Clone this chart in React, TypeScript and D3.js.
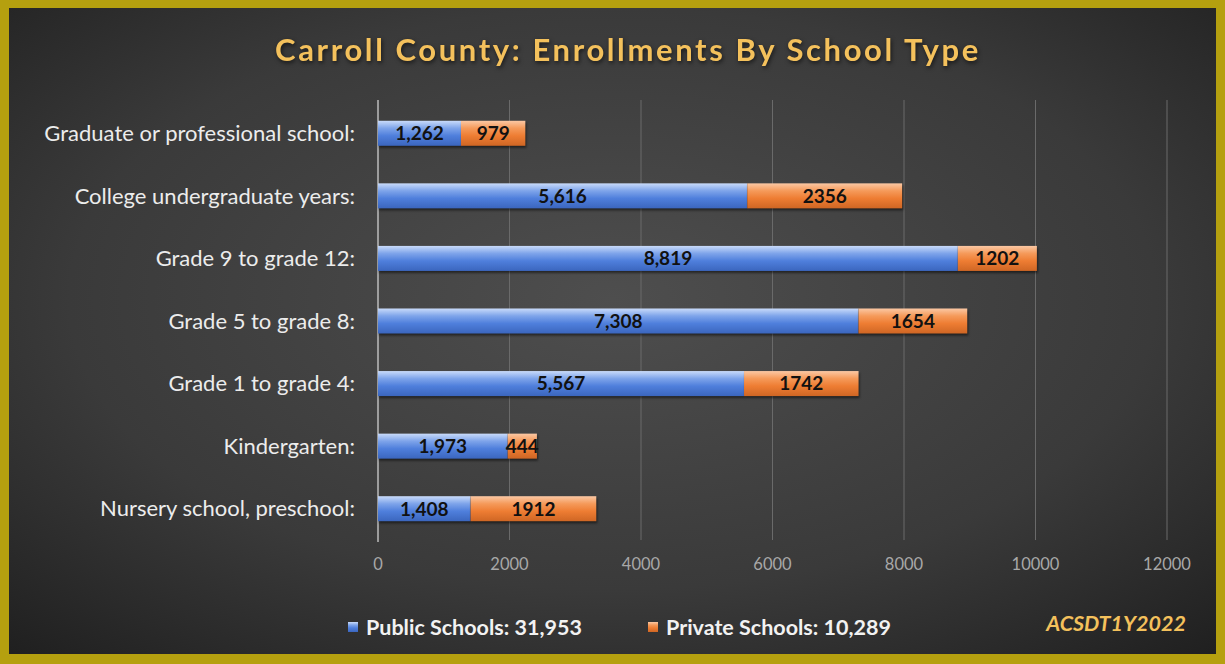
import * as d3 from 'd3';

const categories = [
  'Graduate or professional school:',
  'College undergraduate years:',
  'Grade 9 to grade 12:',
  'Grade 5 to grade 8:',
  'Grade 1 to grade 4:',
  'Kindergarten:',
  'Nursery school, preschool:',
];
const publicValues = [1262, 5616, 8819, 7308, 5567, 1973, 1408];
const privateValues = [979, 2356, 1202, 1654, 1742, 444, 1912];
const xTicks = [0, 2000, 4000, 6000, 8000, 10000, 12000];
const legendLabels = ['Public Schools: 31,953', 'Private Schools: 10,289'];

const W = 1225;
const H = 664;
const FONT = 'Lato, "Open Sans", sans-serif';

export default function App() {
  const x = d3.scaleLinear().domain([0, 12000]).range([378, 1167]);
  const y = d3.scaleBand().domain(categories).range([102, 540]).paddingInner(0.6).paddingOuter(0.3);
  const bh = y.bandwidth();
  const fmt = d3.format(',');

  return (
    <svg width={W} height={H} style={{ position: 'absolute', left: 0, top: 0 }}>
      <defs>
        <radialGradient id="bg" cx="0.5" cy="0.45" r="0.75">
          <stop offset="0" stopColor="#4e4e4e" />
          <stop offset="0.6" stopColor="#3a3a3a" />
          <stop offset="1" stopColor="#1f1f1f" />
        </radialGradient>
        <linearGradient id="blue" x1="0" y1="0" x2="0" y2="1">
          <stop offset="0" stopColor="#c9dbfa" />
          <stop offset="0.3" stopColor="#7ea4ea" />
          <stop offset="0.6" stopColor="#4f7fdc" />
          <stop offset="1" stopColor="#3b66be" />
        </linearGradient>
        <linearGradient id="orange" x1="0" y1="0" x2="0" y2="1">
          <stop offset="0" stopColor="#fbc8a4" />
          <stop offset="0.3" stopColor="#f59a5a" />
          <stop offset="0.6" stopColor="#ee7d33" />
          <stop offset="1" stopColor="#cf6624" />
        </linearGradient>
      </defs>
      <rect x={0} y={0} width={W} height={H} fill="#b5a00f" />
      <rect x={9} y={8} width={W - 18} height={H - 18} fill="url(#bg)" />

      <text x={628} y={61} textAnchor="middle" fill="#f4c15c" fontFamily={FONT} fontWeight="bold"
        fontSize={31} letterSpacing={2.6} style={{ filter: 'drop-shadow(1px 2px 2px rgba(0,0,0,0.6))' }}>
        Carroll County: Enrollments By School Type
      </text>

      {xTicks.map((t) => (
        <g key={t}>
          {t > 0 && <line x1={x(t)} x2={x(t)} y1={100} y2={540} stroke="#6a6a6a" strokeWidth={1} />}
          <text x={x(t)} y={570} textAnchor="middle" fill="#a8a8a8" fontFamily={FONT} fontSize={16.5}>
            {t}
          </text>
        </g>
      ))}
      <line x1={x(0)} x2={x(0)} y1={100} y2={542} stroke="#bdbdbd" strokeWidth={1.5} />

      {categories.map((c, i) => {
        const y0 = y(c)!;
        const p = publicValues[i];
        const q = privateValues[i];
        return (
          <g key={c}>
            <text x={355} y={y0 + bh / 2} dy="0.35em" textAnchor="end" fill="#ececec"
              fontFamily={FONT} fontSize={22}>
              {c}
            </text>
            <rect x={x(0)} y={y0} width={x(p) - x(0)} height={bh} fill="url(#blue)"
              style={{ filter: 'drop-shadow(1px 2px 1px rgba(0,0,0,0.5))' }} />
            <rect x={x(p)} y={y0} width={x(p + q) - x(p)} height={bh} fill="url(#orange)"
              style={{ filter: 'drop-shadow(1px 2px 1px rgba(0,0,0,0.5))' }} />
            <text x={(x(0) + x(p)) / 2} y={y0 + bh / 2} dy="0.36em" textAnchor="middle"
              fill="#111" fontFamily={FONT} fontWeight="bold" fontSize={19}>
              {fmt(p)}
            </text>
            <text x={(x(p) + x(p + q)) / 2} y={y0 + bh / 2} dy="0.36em" textAnchor="middle"
              fill="#111" fontFamily={FONT} fontWeight="bold" fontSize={19}>
              {q}
            </text>
          </g>
        );
      })}

      {legendLabels.map((l, i) => {
        const lx = i === 0 ? 348 : 648;
        return (
          <g key={l}>
            <rect x={lx} y={622} width={10} height={10} fill={i === 0 ? 'url(#blue)' : 'url(#orange)'} />
            <text x={lx + 18} y={627} dy="0.36em" fill="#f2f2f2" fontFamily={FONT} fontWeight="bold"
              fontSize={21.5}>
              {l}
            </text>
          </g>
        );
      })}
      <text x={1186} y={623} dy="0.36em" textAnchor="end" fill="#f4c15c" fontFamily={FONT}
        fontWeight="bold" fontStyle="italic" fontSize={21.5}>
        ACSDT1Y2022
      </text>
    </svg>
  );
}
